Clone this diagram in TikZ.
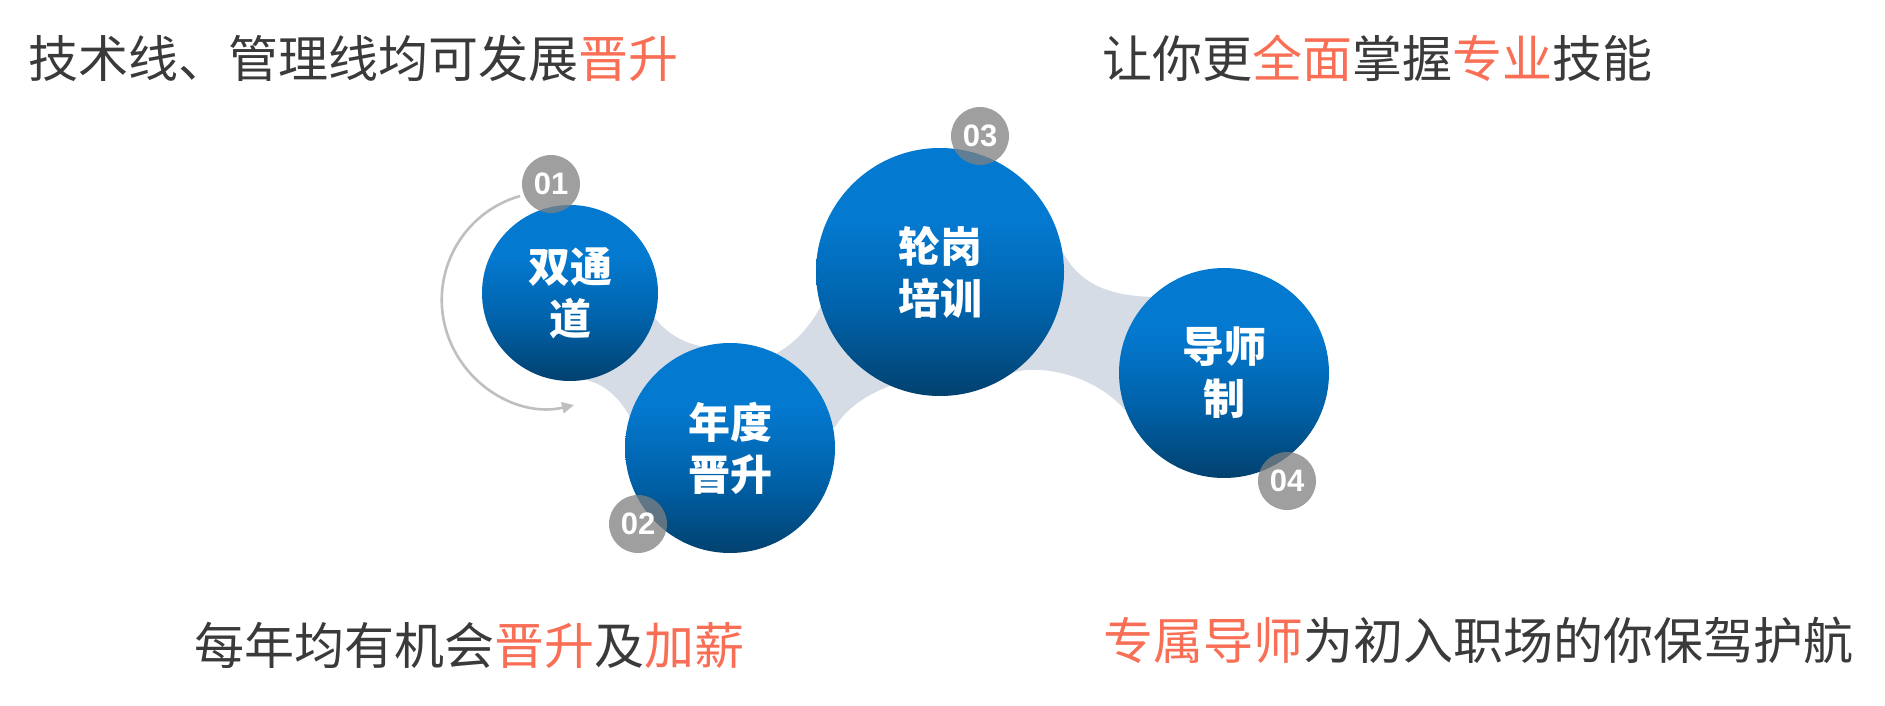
\documentclass[tikz,border=0pt]{standalone}
\usepackage{fontspec}
\setmainfont{Liberation Sans}
\newfontfamily\cjk{Noto Sans CJK SC}
\usetikzlibrary{arrows.meta,calc}
\definecolor{bridgecol}{HTML}{D6DCE5}
\definecolor{blueL}{HTML}{0479D0}
\definecolor{blueM}{HTML}{0061A8}
\definecolor{blueD}{HTML}{02416F}
\definecolor{txtcol}{HTML}{3A3A3A}
\definecolor{hlcol}{HTML}{F96F55}
\definecolor{badgecol}{HTML}{808080}
\definecolor{arccol}{HTML}{BFBFBF}
\pgfdeclareverticalshading{ballshade}{100bp}{color(0bp)=(blueD); color(25bp)=(blueD); color(42bp)=(blueM); color(60bp)=(blueL); color(75bp)=(blueL); color(100bp)=(blueL)}
\tikzset{
  ball/.style={circle, inner sep=0pt, shading=ballshade, text=white, align=center,
    font=\cjk\bfseries\fontsize{42}{52}\selectfont},
  badge/.style={circle, inner sep=0pt, minimum size=58, fill=badgecol, fill opacity=0.75,
    text opacity=1, text=white, font=\bfseries\fontsize{31}{31}\selectfont},
  headline/.style={anchor=west, inner sep=0pt, text=txtcol, font=\cjk\fontsize{50}{50}\selectfont},
  bridge/.style={fill=bridgecol},
  turnarrow/.style={draw=arccol, line width=2.6, -{Triangle[length=12,width=11]}}
}
\begin{document}
\begin{tikzpicture}[x=1pt,y=-1pt]
\useasboundingbox (0,0) rectangle (1885,706);
\fill[white] (0,0) rectangle (1885,706);
% centres
\coordinate (p1) at (570,293);
\coordinate (p2) at (730,448);
\coordinate (p3) at (940,272);
\coordinate (p4) at (1224,373);
% bridges
\path[bridge] (655,318) .. controls (665,332) and (685,345) .. (707,347)
  -- (p2) -- (633,423) .. controls (620,395) and (600,381) .. (580,379) -- (p1) -- cycle;
\path[bridge] (777,353) .. controls (792,345) and (810,328) .. (822,304)
  -- (p3) -- (890,386) .. controls (865,395) and (845,410) .. (835,427) -- (p2) -- cycle;
\path[bridge] (1062,251) .. controls (1080,285) and (1110,296) .. (1154,297)
  -- (p4) -- (1125,410) .. controls (1090,370) and (1030,364) .. (1010,374) -- (p3) -- cycle;
% turning arrow
\coordinate (arcstart) at (520,196);
\draw[turnarrow] (arcstart) arc[start angle=254, end angle=77, radius=108];
% circles
\node[ball, minimum size=176] (c1) at (p1) {双通\\道};
\node[ball, minimum size=210] (c2) at (p2) {年度\\晋升};
\node[ball, minimum size=248] (c3) at (p3) {轮岗\\培训};
\node[ball, minimum size=210] (c4) at (p4) {导师\\制};
% badges
\node[badge] (b1) at (551,184) {01};
\node[badge] (b2) at (638,524) {02};
\node[badge] (b3) at (980,136) {03};
\node[badge] (b4) at (1287,481) {04};
% texts
\node[headline] (t1) at (28,58) {技术线、管理线均可发展\textcolor{hlcol}{晋升}};
\node[headline] (t2) at (1102,58) {让你更\textcolor{hlcol}{全面}掌握\textcolor{hlcol}{专业}技能};
\node[headline] (t3) at (194,645) {每年均有机会\textcolor{hlcol}{晋升}及\textcolor{hlcol}{加薪}};
\node[headline] (t4) at (1103,640) {\textcolor{hlcol}{专属导师}为初入职场的你保驾护航};
\end{tikzpicture}
\end{document}
